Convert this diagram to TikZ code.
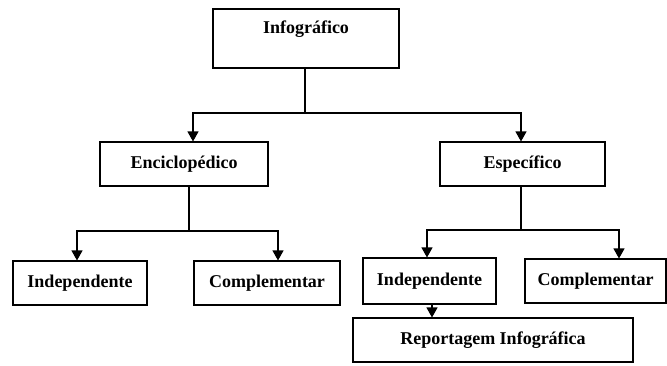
\documentclass[tikz,border=0pt]{standalone}
\usepackage{fontspec}
\setmainfont{Liberation Serif}
\usepackage{tikz}
\usetikzlibrary{arrows.meta}
\usetikzlibrary{positioning}
\tikzstyle{process} = [rectangle, minimum height=44pt, text centered, draw=black, line width=1.1pt, font=\fontsize{18}{21}\selectfont\bfseries]
\tikzstyle{link} = [line width=1.1pt]
\tikzstyle{arrow} = [line width=1.1pt,-{Triangle[width=11pt,length=10pt]}]

\begin{document}
\begin{tikzpicture}[x=1pt, y=-1pt]

        \useasboundingbox (0,0) rectangle (667,365);

        % Nodes
        \node (info) [process, minimum width=186pt, minimum height=59pt, text height=17.5pt, text depth=28.5pt, inner ysep=6.5pt] at (306,38.5) {Infográfico};
        \node (enc) [process, minimum width=168pt] at (184,164) {Enciclopédico};
        \node (esp) [process, minimum width=165pt] at (522.5,164) {Específico};
        \node (indA) [process, minimum width=134pt] at (80,283) {Independente};
        \node (compA) [process, minimum width=146pt] at (267,283) {Complementar};
        \node (indB) [process, minimum width=133pt, minimum height=46pt] at (429.5,281) {Independente};
        \node (compB) [process, minimum width=141pt] at (595.5,281) {Complementar};
        \node (rep) [process, minimum width=280pt] at (493,340) {Reportagem Infográfica};

        % Junctions
        \coordinate (infojoin) at (305,113);
        \coordinate (encjoin) at (189,231);
        \coordinate (espjoin) at (521,230);

        % Arrows
        \draw [link] ([xshift=-1pt]info.south) -- (infojoin);
        \draw [arrow] (infojoin) -| ([xshift=9pt]enc.north);
        \draw [arrow] (infojoin) -| ([xshift=-1.5pt]esp.north);
        \draw [link] ([xshift=5pt]enc.south) -- (encjoin);
        \draw [arrow] (encjoin) -| ([xshift=-3pt]indA.north);
        \draw [arrow] (encjoin) -| ([xshift=11pt]compA.north);
        \draw [link] ([xshift=-1.5pt]esp.south) -- (espjoin);
        \draw [arrow] (espjoin) -| ([xshift=-2.5pt]indB.north);
        \draw [arrow] (espjoin) -| ([xshift=23.5pt]compB.north);
        \draw [arrow] ([xshift=2.5pt]indB.south) -- ([xshift=2.5pt]indB.south |- rep.north);

    \end{tikzpicture}
\end{document}
